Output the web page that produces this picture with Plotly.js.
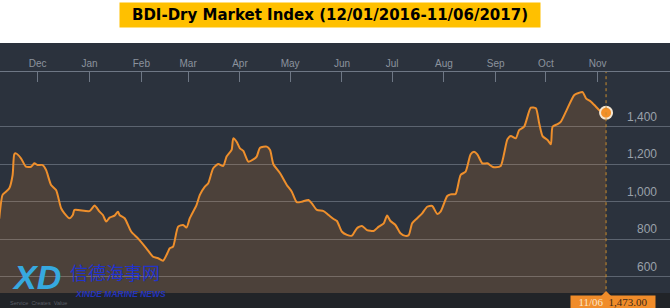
<!DOCTYPE html>
<html>
<head>
<meta charset="utf-8">
<script src="https://cdn.plot.ly/plotly-3.0.1.min.js"></script>
<style>
html,body{margin:0;padding:0;background:#ffffff;}
#chart{width:670px;height:308px;}
</style>
</head>
<body>
<div id="chart"></div>
<script>
const titleText = 'BDI-Dry Market Index (12/01/2016-11/06/2017)';
const dates = ['2016-11-08','2016-11-10','2016-11-12','2016-11-14','2016-11-16','2016-11-17','2016-11-18','2016-11-21','2016-11-24','2016-11-27',
'2016-11-29','2016-12-01','2016-12-04','2016-12-06','2016-12-09','2016-12-12','2016-12-15','2016-12-17','2016-12-20','2016-12-22',
'2016-12-23','2017-01-01','2017-01-04','2017-01-07','2017-01-09','2017-01-11','2017-01-13','2017-01-16','2017-01-18','2017-01-19',
'2017-01-22','2017-01-26','2017-01-30','2017-02-04','2017-02-08','2017-02-11','2017-02-14','2017-02-17','2017-02-18','2017-02-20',
'2017-02-23','2017-02-26','2017-02-28','2017-03-02','2017-03-06','2017-03-08','2017-03-11','2017-03-13','2017-03-16','2017-03-19',
'2017-03-22','2017-03-24','2017-03-27','2017-03-28','2017-03-30','2017-04-01','2017-04-03','2017-04-06','2017-04-09','2017-04-11',
'2017-04-13','2017-04-17','2017-04-19','2017-04-21','2017-04-25','2017-04-29','2017-05-02','2017-05-05','2017-05-08','2017-05-12',
'2017-05-14','2017-05-17','2017-05-21','2017-05-24','2017-05-27','2017-05-29','2017-06-01','2017-06-04','2017-06-07','2017-06-10',
'2017-06-13','2017-06-16','2017-06-20','2017-06-23','2017-06-26','2017-06-28','2017-06-30','2017-07-03','2017-07-06','2017-07-09',
'2017-07-11','2017-07-13','2017-07-16','2017-07-19','2017-07-22','2017-07-25','2017-07-28','2017-07-30','2017-08-03','2017-08-05',
'2017-08-08','2017-08-11','2017-08-14','2017-08-17','2017-08-19','2017-08-21','2017-08-24','2017-08-27','2017-08-30','2017-09-01',
'2017-09-04','2017-09-08','2017-09-10','2017-09-13','2017-09-15','2017-09-18','2017-09-22','2017-09-25','2017-09-27','2017-09-29',
'2017-10-02','2017-10-04','2017-10-05','2017-10-08','2017-10-10','2017-10-13','2017-10-18','2017-10-21','2017-10-23','2017-10-25',
'2017-10-28','2017-10-30','2017-11-03','2017-11-06'];
const values = [910,1036,1053,1071,1142,1252,1257,1231,1186,1186,
1204,1195,1195,1169,1089,1062,965,938,912,929,
956,950,979,947,929,894,915,926,947,929,
912,840,805,752,707,699,686,734,752,761,
867,876,862,912,982,1036,1080,1098,1178,1200,
1190,1240,1275,1337,1319,1284,1270,1213,1225,1240,
1287,1293,1275,1199,1151,1089,1053,997,1000,1009,
991,956,950,929,908,897,840,823,819,859,
871,849,844,867,885,926,897,876,832,818,
823,885,912,938,973,977,935,947,1030,1039,
1041,1142,1160,1252,1266,1252,1204,1204,1186,1183,
1190,1332,1349,1337,1381,1399,1500,1497,1417,1349,
1328,1305,1399,1413,1426,1479,1568,1580,1583,1550,
1532,1514,1479,1473];
const yTickVals = [600, 800, 1000, 1200, 1400];
const yTickText = ['600', '800', '1,000', '1,200', '1,400'];
const lastLabelValue = '1,473.00';
const lastLabelDate = '11/06';

const lastDate = dates[dates.length - 1];
const lastVal = values[values.length - 1];

const plotBg = '#2b323d';
const traces = [
  {
    type: 'scatter', mode: 'lines', x: dates, y: values,
    line: {color: '#ee8f2c', width: 2, shape: 'spline', smoothing: 0.6},
    fill: 'tozeroy', fillcolor: 'rgba(245,145,50,0.17)',
    hoverinfo: 'skip'
  },
  {
    type: 'scatter', mode: 'markers', x: [lastDate], y: [lastVal],
    marker: {size: 12, color: '#f28f27', line: {color: '#f4e6d2', width: 2}},
    cliponaxis: false, hoverinfo: 'skip'
  }
];

const layout = {
  width: 670, height: 308,
  margin: {l: 0, r: 0, t: 72, b: 15, pad: 0},
  paper_bgcolor: '#ffffff',
  plot_bgcolor: plotBg,
  showlegend: false,
  xaxis: {
    type: 'date', side: 'top',
    range: ['2016-11-08 10:48', '2017-12-14 06:00'],
    tick0: '2016-12-01', dtick: 'M1', tickformat: '%b',
    ticks: 'inside', ticklen: 10, tickwidth: 1, tickcolor: '#6e7785',
    showline: true, linecolor: '#6e7785', linewidth: 1,
    showgrid: false, zeroline: false,
    tickfont: {family: 'Liberation Sans, Arial, sans-serif', size: 10, color: '#8b939e'},
    fixedrange: true
  },
  yaxis: {
    side: 'right', range: [514, 1690],
    tickvals: yTickVals, ticktext: yTickText,
    ticklabelposition: 'inside', ticklabelshift: -10, ticklabelstandoff: 10,
    ticks: '', showgrid: true, gridcolor: '#5c6470', gridwidth: 1,
    zeroline: false, showline: false,
    tickfont: {family: 'Liberation Sans, Arial, sans-serif', size: 12, color: '#9aa1aa'},
    fixedrange: true
  },
  shapes: [
    {type: 'rect', xref: 'paper', yref: 'paper', x0: 0, x1: 1, y0: 1, y1: 1 + 29/221,
     fillcolor: plotBg, line: {width: 0}, layer: 'below'},
    {type: 'rect', xref: 'paper', yref: 'paper', x0: 0, x1: 1, y0: -15/221, y1: 0,
     fillcolor: '#212428', line: {width: 0}, layer: 'below'},
    {type: 'line', xref: 'x', yref: 'paper', x0: lastDate, x1: lastDate, y0: -0.01, y1: 1,
     line: {color: '#c98c2e', width: 1, dash: 'dot'}, layer: 'above'},
    {type: 'path', xref: 'x', yref: 'paper', xsizemode: 'pixel', ysizemode: 'pixel',
     xanchor: lastDate, yanchor: 0, path: 'M -5,-3 L 5,-3 L 0,2 Z',
     fillcolor: '#f08c2a', line: {width: 0}, layer: 'above'}
  ],
  annotations: [
    {xref: 'paper', yref: 'paper', x: 330/670, y: 1 + (72-15)/221, xanchor: 'center', yanchor: 'middle',
     text: '<b>' + titleText + '</b>', showarrow: false,
     width: 420, height: 24, bgcolor: '#ffc000', borderpad: 0,
     font: {family: 'DejaVu Sans, sans-serif', size: 15, color: '#000000'}},
    {xref: 'x', yref: 'paper', x: lastDate, xshift: 7, y: -9/221, xanchor: 'center', yanchor: 'middle',
     text: '<span style="color:#fbe4c6">' + lastLabelDate + '</span>  ' + lastLabelValue,
     showarrow: false, width: 84, height: 12, bgcolor: '#f08c2a', borderpad: 0,
     font: {family: 'Liberation Serif, serif', size: 11, color: '#3b2a1a'}},
    {xref: 'paper', yref: 'paper', x: 10/670, y: (293-277)/221, xanchor: 'left', yanchor: 'middle',
     text: '<b><i>XD</i></b>', showarrow: false,
     font: {family: 'Liberation Sans, Arial, sans-serif', size: 34, color: '#36a9e0'}},
    {xref: 'paper', yref: 'paper', x: 68/670, y: (293-271.5)/221, xanchor: 'left', yanchor: 'middle',
     text: '信德海事网', showarrow: false,
     font: {family: 'Noto Sans CJK SC, sans-serif', size: 18, color: '#2233cc'}},
    {xref: 'paper', yref: 'paper', x: 73/670, y: (293-294)/221, xanchor: 'left', yanchor: 'middle',
     text: '<b><i>XINDE MARINE NEWS</i></b>', showarrow: false,
     font: {family: 'Liberation Sans, Arial, sans-serif', size: 8.5, color: '#2233bb'}},
    {xref: 'paper', yref: 'paper', x: 8/670, y: (293-303)/221, xanchor: 'left', yanchor: 'middle',
     text: 'Service  Creates  Value', showarrow: false,
     font: {family: 'Liberation Sans, Arial, sans-serif', size: 5.5, color: '#5a5e66'}}
  ]
};

Plotly.newPlot('chart', traces, layout, {displayModeBar: false, staticPlot: true});
</script>
</body>
</html>
